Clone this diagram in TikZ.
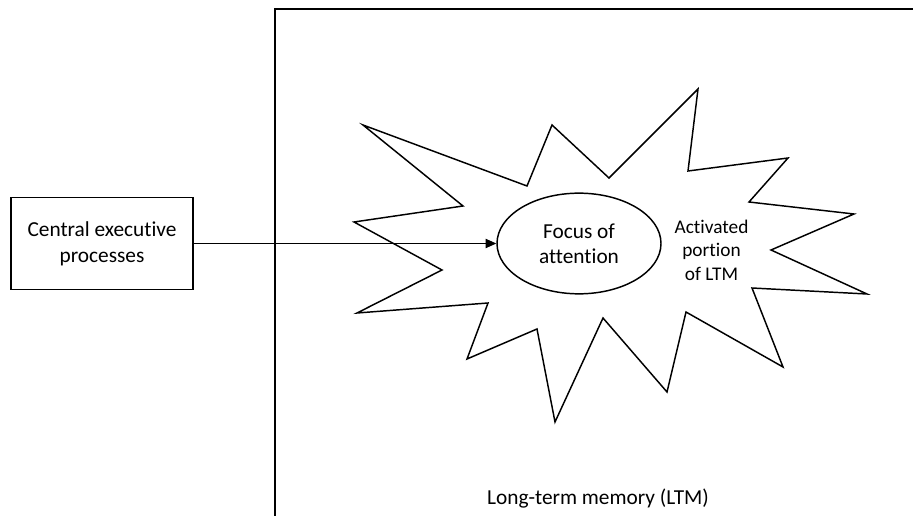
\documentclass[tikz,border=0pt]{standalone}
\usepackage{fontspec}
\setmainfont{Carlito}[Ligatures=NoCommon]
\usetikzlibrary{shapes.geometric,arrows.meta}
\begin{document}
\begin{tikzpicture}[x=0.75pt,y=0.75pt,yscale=-1,xscale=1,
    procbox/.style={draw,line width=1.4pt,minimum width=136.5pt,minimum height=69pt,align=center,font=\fontsize{16}{19.5}\selectfont},
    focus/.style={draw,ellipse,line width=1.1pt,inner sep=0pt,minimum width=123pt,minimum height=75.5pt,align=center,font=\fontsize{16}{19}\selectfont},
    plain/.style={align=center,font=\fontsize{14.5}{17.6}\selectfont}]
            \clip (0,0) rectangle (913,516);
            % long-term memory frame, runs off the page
            \draw[line width=1.5pt] (275,530) -- (275,9) -- (930,9);
            % activated portion
            \draw[line width=1.1pt,line join=miter] (363,125) -- (527,186) -- (552,125) -- (609,178) -- (698,89) -- (688,171) -- (788,158) -- (749,202) -- (854,214) -- (771,250) -- (867,294) -- (752,288) -- (783,367) -- (686,312) -- (667,392) -- (603,318) -- (555,422) -- (537,329) -- (467,359) -- (488,303) -- (357,313) -- (442,270) -- (354,222) -- (463,206) -- cycle;
            \node[procbox] (cep) at (102,243.5) {Central executive\\processes};
            \node[focus] (foa) at (579,243.5) {Focus of\\attention};
            \node[plain] (act) at (711.5,250) {Activated\\portion\\of LTM};
            \node[font=\fontsize{16}{19}\selectfont] (ltm) at (598,499) {Long-term memory (LTM)};
            \draw[line width=0.7pt,-{Triangle[length=8pt,width=7pt]}] (cep.east) -- (foa.west);
        \end{tikzpicture}
\end{document}
